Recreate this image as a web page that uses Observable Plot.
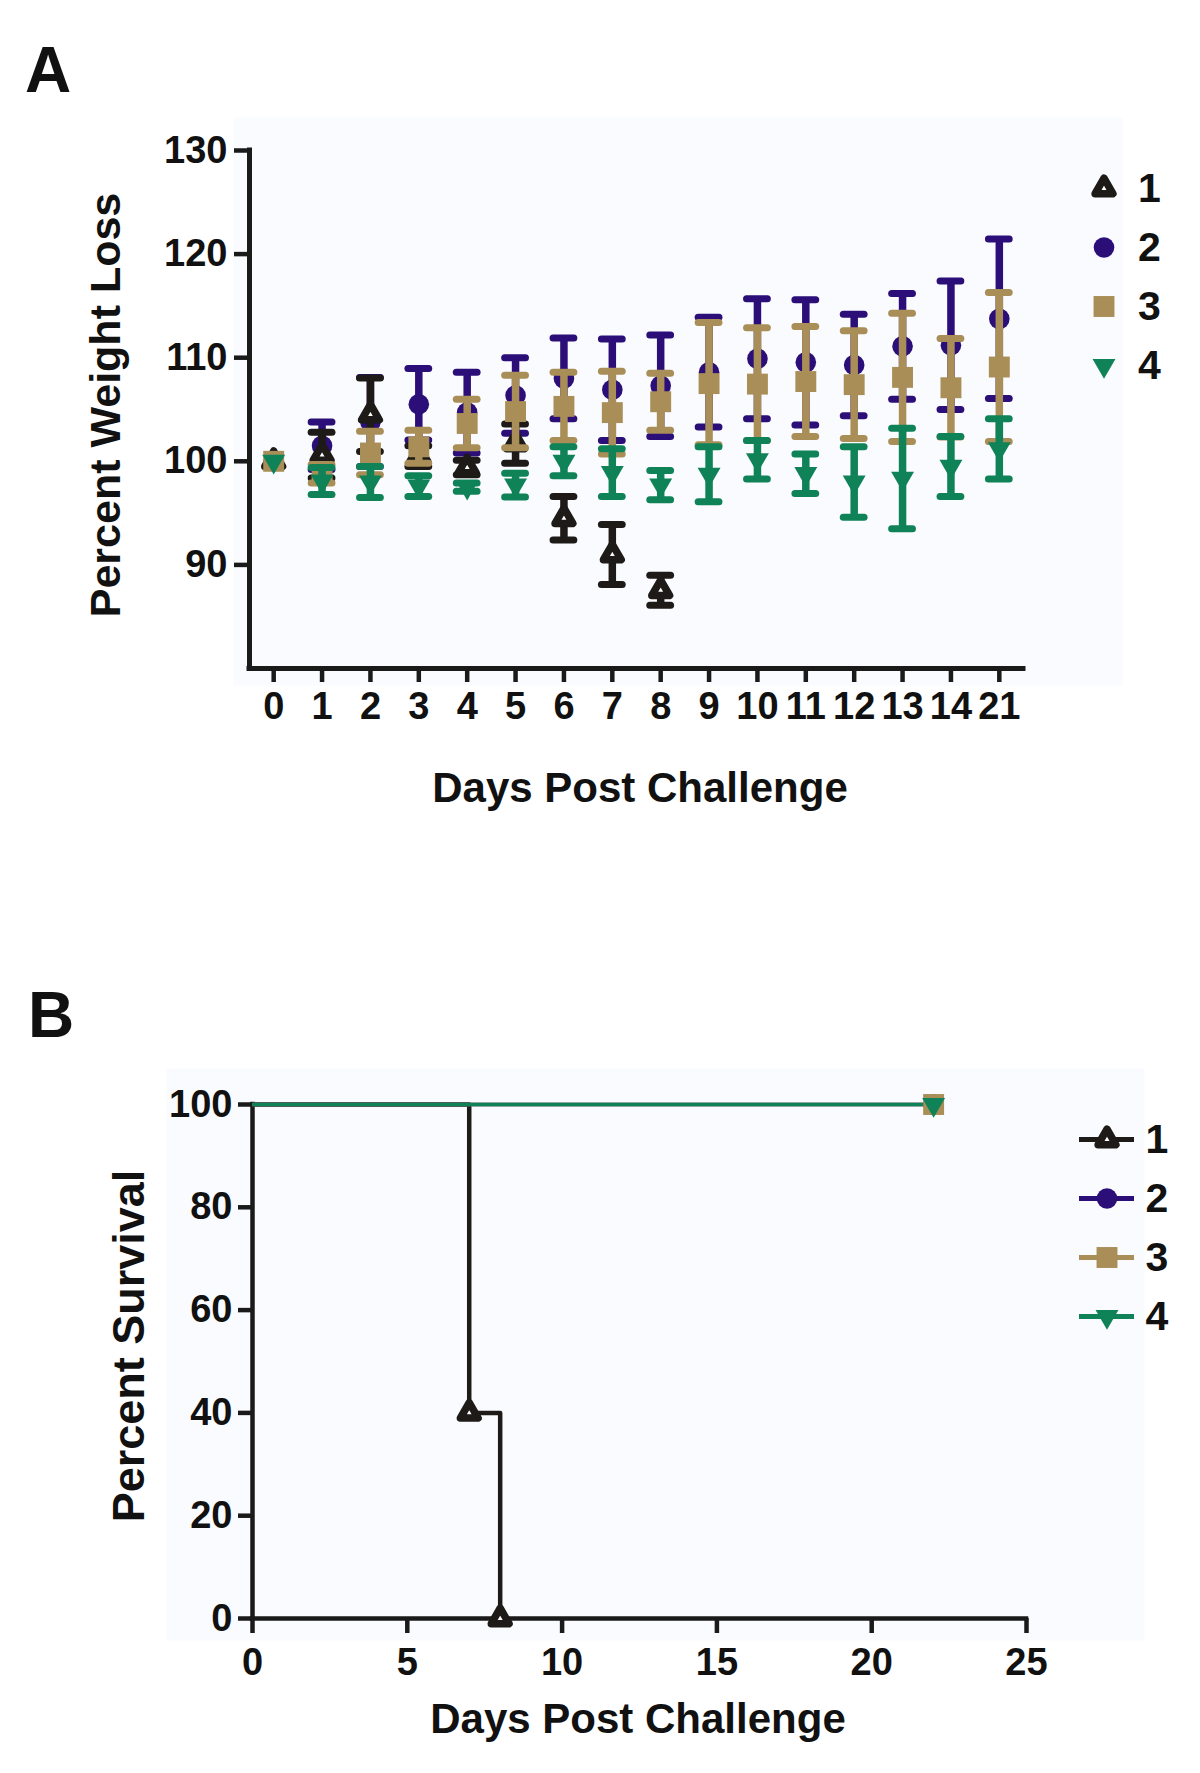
<!DOCTYPE html>
<html>
<head>
<meta charset="utf-8">
<script src="https://cdn.jsdelivr.net/npm/d3@7"></script>
<script src="https://cdn.jsdelivr.net/npm/@observablehq/plot@0.6"></script>
<style>
  body { margin: 0; background: #ffffff; }
  #page { position: relative; width: 1200px; height: 1773px; overflow: hidden;
          font-family: 'Liberation Sans', Arial, Helvetica, sans-serif; font-weight: bold; color: #111; }
  .blk { position: absolute; }
  .t { position: absolute; line-height: 1; white-space: nowrap; font-weight: bold; }
</style>
</head>
<body>
<div id="page"></div>
<script>
// ---------- Panel A: weight data (mean and SD per day) ----------
const dayLabels = ["0","1","2","3","4","5","6","7","8","9","10","11","12","13","14","21"];
const groupNames = ["1","2","3","4"];

const g1Mean = [100, 100.6, 104.5, 100.5, 99.4, 101.7, 94.5, 91.0, 87.55];
const g1Sd   = [0,   2.2,   3.55,  1.0,   0.7,  1.9,   2.1,  2.9,  1.45];

const g2Mean = [100, 101.5, 103.8, 105.5, 104.7, 106.35, 108.0, 106.9, 107.3, 108.6, 109.9, 109.55, 109.3, 111.1, 111.2, 113.75];
const g2Sd   = [0,   2.3,   4.3,   3.45,  3.9,   3.65,   3.9,   4.9,   4.9,   5.3,   5.8,   6.05,   4.9,   5.1,   6.2,   7.7];

const g3Mean = [100, 98.8, 100.8, 101.4, 103.65, 104.8, 105.3, 104.7, 105.75, 107.5, 107.45, 107.7, 107.4, 108.1, 107.1, 109.1];
const g3Sd   = [0,   0.9,  2.1,   1.6,   2.35,   3.5,   3.3,   4.0,   2.75,   5.9,   5.45,   5.3,   5.2,   6.2,   4.75,  7.2];

const g4Mean = [100, 98.1, 98.0, 97.6, 97.5, 97.7, 100.0, 98.9, 97.7, 98.75, 100.15, 98.8, 98.0, 98.35, 99.5, 101.2];
const g4Sd   = [0,   1.3,  1.5,  1.0,  0.4,  1.15, 1.4,   2.3,  1.4,  2.65,  1.85,   1.9,  3.4,  4.85,  2.9,  2.9];

const weightTicks = [90, 100, 110, 120, 130];

// ---------- Panel B: survival data ----------
const survT1 = [0, 7, 8],  survP1 = [100, 40, 0];
const survT2 = [0, 22],    survP2 = [100, 100];
const survT3 = [0, 22],    survP3 = [100, 100];
const survT4 = [0, 22],    survP4 = [100, 100];
const survTicksX = [0, 5, 10, 15, 20, 25];
const survTicksY = [0, 20, 40, 60, 80, 100];

// ---------- styles ----------
const colors = {"1": "#1d1a17", "2": "#2b0e78", "3": "#a98e57", "4": "#0f8258"};
const axisColor = "#1a1a1a";
const bgColor = "#f9fbfe";
const font = "'Liberation Sans', Arial, Helvetica, sans-serif";

const means = {"1": g1Mean, "2": g2Mean, "3": g3Mean, "4": g4Mean};
const sds   = {"1": g1Sd,   "2": g2Sd,   "3": g3Sd,   "4": g4Sd};
const rows = [];
for (const g of groupNames) means[g].forEach((m, i) => rows.push({g, i, mean: m, sd: sds[g][i]}));

function markerOpts(g) {
  if (g === "1") return {symbol: "triangle", r: 6.6, fill: "white", stroke: colors[g], strokeWidth: 7.5, strokeLinejoin: "round"};
  if (g === "2") return {symbol: "circle", r: 10.3, fill: colors[g]};
  if (g === "3") return {symbol: "square", r: 11.8, fill: colors[g]};
  return {symbol: "triangle", r: 8.5, rotate: 180, fill: colors[g]};
}

const capHalf = 0.215;
function seriesMarks(g) {
  const data = rows.filter(d => d.g === g);
  const withBars = data.filter(d => d.sd > 0);
  return [
    Plot.ruleX(withBars, {x: "i", y1: d => d.mean - d.sd, y2: d => d.mean + d.sd, stroke: colors[g], strokeWidth: 7.5}),
    Plot.ruleY(withBars, {y: d => d.mean + d.sd, x1: d => d.i - capHalf, x2: d => d.i + capHalf, stroke: colors[g], strokeWidth: 7, strokeLinecap: "round"}),
    Plot.ruleY(withBars, {y: d => d.mean - d.sd, x1: d => d.i - capHalf, x2: d => d.i + capHalf, stroke: colors[g], strokeWidth: 7, strokeLinecap: "round"}),
    Plot.dot(data, {x: "i", y: "mean", ...markerOpts(g)})
  ];
}

const page = document.getElementById("page");
function addText(txt, css) {
  const d = document.createElement("div");
  d.className = "t";
  d.textContent = txt;
  Object.assign(d.style, css);
  page.appendChild(d);
  return d;
}
function place(node, left, top) {
  const w = document.createElement("div");
  w.className = "blk";
  w.style.left = left + "px";
  w.style.top = top + "px";
  w.appendChild(node);
  page.appendChild(w);
}

// ---------- Panel A plot ----------
const HA = 830;
const plotA = Plot.plot({
  width: 1200, height: HA,
  marginLeft: 249, marginRight: 177, marginTop: 150, marginBottom: HA - 668,
  style: {background: "transparent", fontFamily: font, fontWeight: "bold", color: "#111", overflow: "visible"},
  x: {domain: [-0.5, dayLabels.length - 0.5]},
  y: {domain: [80, 130]},
  marks: [
    Plot.frame({fill: bgColor, stroke: "none", insetLeft: -16, insetRight: -99, insetTop: -33, insetBottom: -17}),
    ...["2", "1", "3", "4"].flatMap(seriesMarks),
    Plot.ruleY([80], {stroke: axisColor, strokeWidth: 5, strokeLinecap: "square"}),
    Plot.ruleX([-0.5], {stroke: axisColor, strokeWidth: 5, strokeLinecap: "square"}),
    Plot.axisX({ticks: dayLabels.map((_, i) => i), tickFormat: i => dayLabels[i], tickSize: 14, tickPadding: 10,
                stroke: axisColor, strokeWidth: 4.5, fontSize: 38, fontWeight: "bold", fontFamily: font, label: null}),
    Plot.axisY({ticks: weightTicks, tickSize: 15, tickPadding: 7,
                stroke: axisColor, strokeWidth: 4.5, fontSize: 38, fontWeight: "bold", fontFamily: font, label: null})
  ]
});
place(plotA, 0, 0);

// ---------- Panel A legend ----------
const legendA = Plot.plot({
  width: 110, height: 240, margin: 0,
  style: {background: "transparent", fontFamily: font, fontWeight: "bold", color: "#111", overflow: "visible"},
  x: {domain: [0, 1], range: [8, 63], axis: null},
  y: {type: "point", domain: groupNames, range: [30, 208], padding: 0, axis: null},
  marks: [
    ...groupNames.map(g => Plot.dot([g], {x: 0.5, y: d => d, ...markerOpts(g)})),
    Plot.text(groupNames, {x: 1.12, y: d => d, text: d => d, textAnchor: "start", fontSize: 41, fontWeight: "bold", fill: "#111"})
  ]
});
place(legendA, 1067.5, 157);

// ---------- Panel B plot ----------
const topB = 980, HB = 700;
const surv = [
  {g: "1", t: survT1, p: survP1},
  {g: "2", t: survT2, p: survP2},
  {g: "3", t: survT3, p: survP3},
  {g: "4", t: survT4, p: survP4}
].map(s => ({g: s.g, pts: s.t.map((t, k) => ({t, p: s.p[k]}))}));

const plotB = Plot.plot({
  width: 1200, height: HB,
  marginLeft: 252, marginRight: 174, marginTop: 124, marginBottom: HB - (1618 - topB),
  style: {background: "transparent", fontFamily: font, fontWeight: "bold", color: "#111", overflow: "visible"},
  x: {domain: [0, 25]},
  y: {domain: [0, 100]},
  marks: [
    Plot.frame({fill: bgColor, stroke: "none", insetLeft: -86, insetRight: -118, insetTop: -36, insetBottom: -22}),
    Plot.ruleX([0], {stroke: axisColor, strokeWidth: 4.5, strokeLinecap: "square"}),
    Plot.ruleY([0], {stroke: axisColor, strokeWidth: 4.5, strokeLinecap: "square"}),
    ...surv.map(s => Plot.line(s.pts, {x: "t", y: "p", curve: "step-after", stroke: colors[s.g],
                                      strokeWidth: s.g === "1" ? 4.5 : 3.5})),
    ...surv.map(s => Plot.dot(s.pts.filter(d => d.t > 0), {x: "t", y: "p", ...markerOpts(s.g)})),
    Plot.axisX({ticks: survTicksX, tickSize: 15, tickPadding: 15,
                stroke: axisColor, strokeWidth: 4.5, fontSize: 38, fontWeight: "bold", fontFamily: font, label: null}),
    Plot.axisY({ticks: survTicksY, tickSize: 14, tickPadding: 6,
                stroke: axisColor, strokeWidth: 4.5, fontSize: 38, fontWeight: "bold", fontFamily: font, label: null})
  ]
});
place(plotB, 0, topB);

// ---------- Panel B legend ----------
const legendB = Plot.plot({
  width: 110, height: 240, margin: 0,
  style: {background: "transparent", fontFamily: font, fontWeight: "bold", color: "#111", overflow: "visible"},
  x: {domain: [0, 1], range: [8, 63], axis: null},
  y: {type: "point", domain: groupNames, range: [30, 209], padding: 0, axis: null},
  marks: [
    ...groupNames.map(g => Plot.ruleY([g], {y: d => d, x1: 0, x2: 1, stroke: colors[g], strokeWidth: 5})),
    ...groupNames.map(g => Plot.dot([g], {x: 0.5, y: d => d, ...markerOpts(g)})),
    Plot.text(groupNames, {x: 1.2, y: d => d, text: d => d, textAnchor: "start", fontSize: 41, fontWeight: "bold", fill: "#111"})
  ]
});
place(legendB, 1070.5, 1108);

// ---------- Text: panel letters and axis titles ----------
addText("A", {left: "25px", top: "38px", fontSize: "64px"});
addText("B", {left: "28px", top: "983px", fontSize: "64px"});

addText("Days Post Challenge", {left: "340px", width: "600px", textAlign: "center", top: "766.5px", fontSize: "42px"});
addText("Days Post Challenge", {left: "338px", width: "600px", textAlign: "center", top: "1697.5px", fontSize: "42px"});

addText("Percent Weight Loss", {left: "105px", top: "405px", fontSize: "43px", transform: "translate(-50%, -50%) rotate(-90deg)"});
addText("Percent Survival", {left: "128px", top: "1346px", fontSize: "45px", transform: "translate(-50%, -50%) rotate(-90deg)"});
</script>
</body>
</html>
